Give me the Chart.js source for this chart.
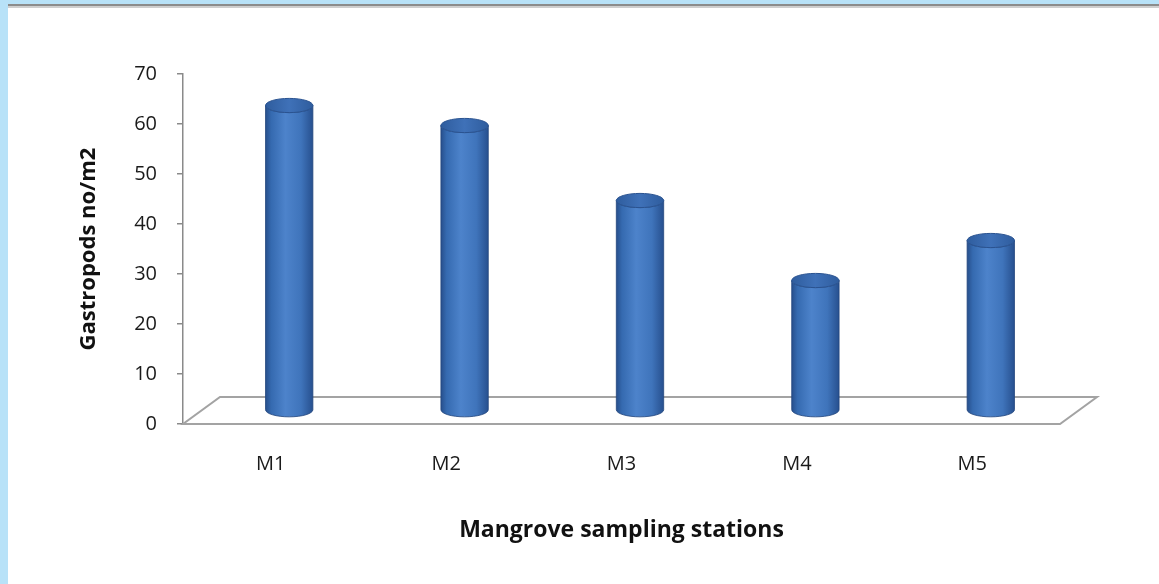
<!DOCTYPE html>
<html><head><meta charset="utf-8">
<script src="https://cdn.jsdelivr.net/npm/chart.js@4.4.1/dist/chart.umd.min.js"></script>
<style>html,body{margin:0;padding:0;background:#fff;overflow:hidden}#wrap{width:1159px;height:584px;position:relative}canvas{display:block}</style>
</head><body><div id="wrap"><canvas id="c" width="1159" height="584" style="width:1159px;height:584px"></canvas></div>
<script>
const categories = ['M1', 'M2', 'M3', 'M4', 'M5'];
const gastropods = [61, 57, 42, 26, 34];
const yMin = 0, yMax = 70, yStep = 10;
const xTitle = 'Mangrove sampling stations';
const yTitle = 'Gastropods no/m2';

const DX = 37, DY = 27;
const FONT = '"Open Sans", Lato, sans-serif';

const framePlugin = {
  id: 'frame',
  beforeDraw(chart) {
    const ctx = chart.ctx; ctx.save();
    ctx.fillStyle = '#ffffff'; ctx.fillRect(0, 0, chart.width, chart.height);
    ctx.fillStyle = '#b8e2f8';
    ctx.fillRect(0, 0, chart.width, 4);
    ctx.fillRect(0, 0, 8, chart.height);
    ctx.fillStyle = '#8c8c8c'; ctx.fillRect(8, 4, chart.width, 2);
    ctx.fillStyle = '#cfcfcf'; ctx.fillRect(8, 6, chart.width, 2);
    ctx.restore();
  }
};

const floorPlugin = {
  id: 'floor',
  beforeDatasetsDraw(chart) {
    const ctx = chart.ctx, xs = chart.scales.x, ys = chart.scales.y;
    const y0 = ys.getPixelForValue(yMin);
    ctx.save();
    ctx.strokeStyle = '#a3a3a3'; ctx.lineWidth = 2; ctx.lineJoin = 'miter';
    ctx.beginPath();
    ctx.moveTo(xs.left, y0);
    ctx.lineTo(xs.right, y0);
    ctx.lineTo(xs.right + DX, y0 - DY);
    ctx.lineTo(xs.left + DX, y0 - DY);
    ctx.closePath();
    ctx.stroke();
    ctx.restore();
  }
};

const cylinderPlugin = {
  id: 'cylinders',
  afterDatasetsDraw(chart) {
    const ctx = chart.ctx;
    const meta = chart.getDatasetMeta(0);
    meta.data.forEach(bar => {
      const w = bar.width, rx = w / 2, ry = w * 0.15;
      const cx = bar.x + DX / 2;
      const top = bar.y - DY / 2, base = bar.base - DY / 2;
      const l = cx - rx, r = cx + rx;
      ctx.save();
      const g = ctx.createLinearGradient(l, 0, r, 0);
      g.addColorStop(0, '#274f8c');
      g.addColorStop(0.12, '#356ab0');
      g.addColorStop(0.42, '#4d83cb');
      g.addColorStop(0.75, '#3f74bb');
      g.addColorStop(1, '#27508f');
      ctx.beginPath();
      ctx.moveTo(l, top);
      ctx.lineTo(l, base);
      ctx.ellipse(cx, base, rx, ry, 0, Math.PI, 0, true);
      ctx.lineTo(r, top);
      ctx.ellipse(cx, top, rx, ry, 0, 0, Math.PI, false);
      ctx.closePath();
      ctx.fillStyle = g; ctx.fill();
      ctx.strokeStyle = 'rgba(35,70,125,0.8)'; ctx.lineWidth = 1; ctx.stroke();
      const gt = ctx.createLinearGradient(l, 0, r, 0);
      gt.addColorStop(0, '#2f5d9e');
      gt.addColorStop(0.5, '#3f71b8');
      gt.addColorStop(1, '#2f5d9e');
      ctx.beginPath();
      ctx.ellipse(cx, top, rx, ry, 0, 0, Math.PI * 2);
      ctx.fillStyle = gt; ctx.fill();
      ctx.strokeStyle = '#2a5391'; ctx.stroke();
      ctx.restore();
    });
  }
};

new Chart(document.getElementById('c'), {
  type: 'bar',
  data: {
    labels: categories,
    datasets: [{
      data: gastropods,
      backgroundColor: 'rgba(0,0,0,0)',
      borderWidth: 0,
      barPercentage: 0.27,
      categoryPercentage: 1
    }]
  },
  options: {
    responsive: false,
    animation: false,
    devicePixelRatio: 1,
    layout: { padding: { left: 10, top: 74, right: 99, bottom: 0 } },
    plugins: { legend: { display: false }, tooltip: { enabled: false } },
    scales: {
      x: {
        afterFit(s) { s.height = 160; },
        grid: { display: false, drawTicks: false },
        border: { display: false },
        ticks: { color: '#1a1a1a', font: { family: FONT, size: 20 }, padding: 28 },
        title: { display: true, text: xTitle, color: '#111', font: { family: FONT, size: 23, weight: 'bold' }, padding: { top: 0, bottom: 40 } }
      },
      y: {
        min: yMin, max: yMax,
        afterFit(s) { s.width = 173; },
        grid: { drawOnChartArea: false, drawTicks: true, tickLength: 6, color: '#8a8a8a', lineWidth: 1.5 },
        border: { display: true, color: '#8a8a8a', width: 1.5 },
        ticks: { stepSize: yStep, color: '#1a1a1a', font: { family: FONT, size: 20 }, padding: 20 },
        title: { display: true, text: yTitle, color: '#111', font: { family: FONT, size: 22, weight: 'bold' }, padding: { top: 66, bottom: 0 } }
      }
    }
  },
  plugins: [framePlugin, floorPlugin, cylinderPlugin]
});
</script></body></html>
